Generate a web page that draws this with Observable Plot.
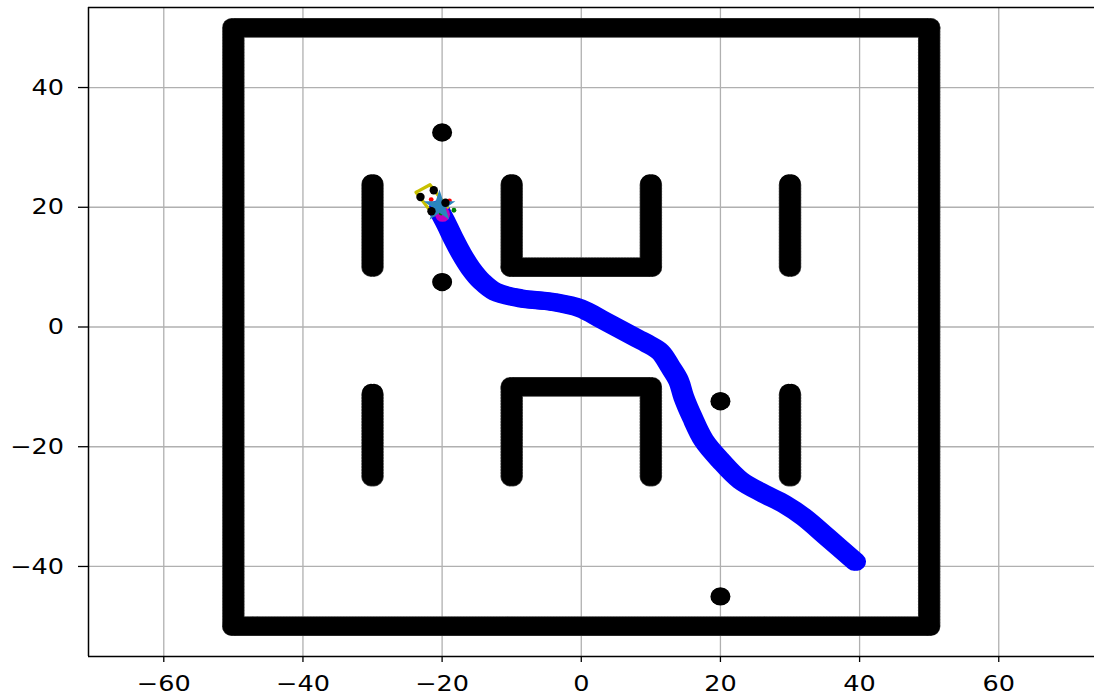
<!DOCTYPE html>
<html><head><meta charset="utf-8">
<script src="https://cdn.jsdelivr.net/npm/d3@7"></script>
<script src="https://cdn.jsdelivr.net/npm/@observablehq/plot@0.6"></script>
<style>
body{margin:0;background:#fff;}
#chart svg{display:block;}
</style>
</head><body><div id="chart"></div>
<script>
// axis ticks
const xTicks = [-60, -40, -20, 0, 20, 40, 60];
const yTicks = [-40, -20, 0, 20, 40];
const xDomain = [-70.82, 73.76];
const yDomain = [-55.04, 53.37];

// obstacle walls (segment endpoints)
const wallX1 = [-50, 50, 50, -50, -30, -30, 30, 30, -10, 10, -10, -10, 10, -10];
const wallY1 = [-50, -50, 50, 50, 10, -25, 10, -25, 10, 10, 10, -25, -25, -10];
const wallX2 = [50, 50, -50, -50, -30, -30, 30, 30, -10, 10, 10, -10, 10, 10];
const wallY2 = [-50, 50, 50, -50, 24, -11, 24, -11, 24, 24, 10, -10, -10, -10];

// isolated obstacle points
const dotX = [-20, -20, 20, 20];
const dotY = [32.5, 7.5, -12.4, -45];

// planned path
const pathX = [-20.48, -19.3, -18.3, -17.2, -15.9, -14.3, -12.4, -8.74, -4.0, -0.11, 3.19, 8.03, 9.47, 11.38, 12.82, 14.0, 14.73, 15.94, 17.61, 20.0, 22.88, 26.23, 29.10, 31.98, 35.34, 39.41];
const pathY = [19.61, 17.0, 14.6, 12.2, 9.8, 7.6, 5.9, 4.79, 4.17, 3.12, 1.11, -1.90, -2.78, -4.19, -6.69, -9.0, -11.71, -15.05, -18.94, -22.28, -25.62, -27.85, -29.52, -31.76, -35.10, -39.20];

// car at start
const carX = [-23.76, -21.74, -19.23, -21.24, -23.76];
const carY = [22.50, 23.76, 19.96, 18.71, 22.50];
const wheelX = [-23.11, -21.20, -21.53, -19.52];
const wheelY = [21.72, 22.84, 19.33, 20.75];
const startX = [-20.38];
const startY = [20.16];
const markX = [-19.94];
const markY = [18.82];
const redX = [-21.57, -18.94];
const redY = [21.28, 21.05];
const greenX = [-20.14, -18.3];
const greenY = [19.04, 19.5];

const walls = wallX1.map((d, i) => ({x1: d, y1: wallY1[i], x2: wallX2[i], y2: wallY2[i]}));
const dots = dotX.map((d, i) => ({x: d, y: dotY[i]}));
const path = pathX.map((d, i) => ({x: d, y: pathY[i]}));
const car = carX.map((d, i) => ({x: d, y: carY[i]}));
const wheels = wheelX.map((d, i) => ({x: d, y: wheelY[i]}));
const pts = (xs, ys) => xs.map((d, i) => ({x: d, y: ys[i]}));

const wallOpts = (dx, w, c, extra) => ({x1: "x1", y1: "y1", x2: "x2", y2: "y2", stroke: c, strokeWidth: w, strokeLinecap: "round", dx, ...extra});
const pathOpts = (dx) => ({x: "x", y: "y", stroke: "#0000ff", strokeWidth: 18, strokeLinecap: "round", strokeLinejoin: "round", curve: "catmull-rom", dx});

const chart = Plot.plot({
  width: 1094,
  height: 697,
  marginLeft: 88,
  marginRight: 0,
  marginTop: 7,
  marginBottom: 41,
  style: {fontFamily: "DejaVu Sans", fontSize: "22px", color: "#000", background: "#fff"},
  x: {domain: xDomain, ticks: xTicks},
  y: {domain: yDomain, ticks: yTicks},
  marks: [
    Plot.gridX(xTicks, {stroke: "#b0b0b0", strokeOpacity: 1, strokeWidth: 1.3}),
    Plot.gridY(yTicks, {stroke: "#b0b0b0", strokeOpacity: 1, strokeWidth: 1.3}),
    Plot.link(walls, wallOpts(-1.5, 19.5, "#444", {strokeDasharray: "1.5 1.5"})),
    Plot.link(walls, wallOpts(1.5, 19.5, "#444", {strokeDasharray: "1.5 1.5"})),
    Plot.link(walls, wallOpts(-1.5, 18, "black")),
    Plot.link(walls, wallOpts(1.5, 18, "black")),
    Plot.dot(dots, {x: "x", y: "y", r: 8.5, fill: "black", dx: -1.5}),
    Plot.dot(dots, {x: "x", y: "y", r: 8.5, fill: "black", dx: 1.5}),
    Plot.dot(dots, {x: "x", y: "y", r: 9.2, fill: "black"}),
    Plot.line(path, pathOpts(-1.5)),
    Plot.line(path, pathOpts(1.5)),
    Plot.line(car, {x: "x", y: "y", stroke: "#c8c000", strokeWidth: 3.2}),
    Plot.dot(pts(markX, markY), {x: "x", y: "y", r: 7.5, fill: "#c000c0"}),
    Plot.dot(pts(redX, redY), {x: "x", y: "y", r: 2.4, fill: "red"}),
    Plot.dot(pts(greenX, greenY), {x: "x", y: "y", r: 2.4, fill: "green"}),
    Plot.dot(pts(startX, startY), {x: "x", y: "y", r: 10, symbol: "star", fill: "#2a85bd"}),
    Plot.dot(wheels, {x: "x", y: "y", r: 4.2, fill: "black"}),
    Plot.ruleX([xDomain[0]], {stroke: "black", strokeWidth: 1.5}),
    Plot.ruleY([yDomain[0], yDomain[1]], {stroke: "black", strokeWidth: 1.5}),
    Plot.axisX(xTicks, {tickSize: 6, tickPadding: 13, stroke: "black", strokeWidth: 1.3, fontSize: 22}),
    Plot.axisY(yTicks, {tickSize: 10, tickPadding: 14.5, stroke: "black", strokeWidth: 1.3, fontSize: 22})
  ]
});

document.getElementById("chart").appendChild(chart);

// widen tick labels horizontally (the reference image is stretched horizontally)
function widen(sel, anchor) {
  d3.select(chart).selectAll(sel).each(function() {
    const b = this.getBBox();
    const cx = anchor === "end" ? b.x + b.width : b.x + b.width / 2;
    const t = this.getAttribute("transform") || "";
    this.setAttribute("transform", `${t} translate(${cx},0) scale(1.16,1) translate(${-cx},0)`);
  });
}
widen('g[aria-label="x-axis tick label"] text', "middle");
widen('g[aria-label="y-axis tick label"] text', "end");
</script>
</body></html>
